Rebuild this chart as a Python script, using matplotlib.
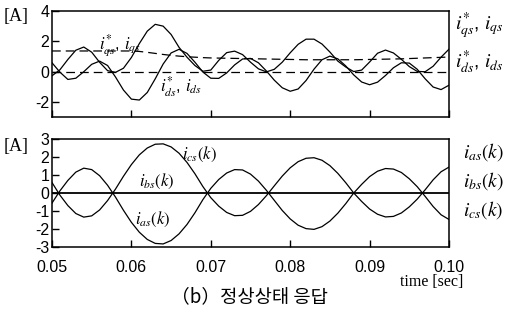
import matplotlib
matplotlib.use("Agg")
import matplotlib.pyplot as plt

# time axis (s)
t = [0.050, 0.051, 0.052, 0.053, 0.054, 0.055, 0.056, 0.057, 0.058, 0.059,
     0.060, 0.061, 0.062, 0.063, 0.064, 0.065, 0.066, 0.067, 0.068, 0.069,
     0.070, 0.071, 0.072, 0.073, 0.074, 0.075, 0.076, 0.077, 0.078, 0.079,
     0.080, 0.081, 0.082, 0.083, 0.084, 0.085, 0.086, 0.087, 0.088, 0.089,
     0.090, 0.091, 0.092, 0.093, 0.094, 0.095, 0.096, 0.097, 0.098, 0.099,
     0.100]

# top panel: q/d axis currents
iqs = [-0.28, 0.12, 0.80, 1.41, 1.62, 1.28, 0.61, 0.06, -0.05, 0.22,
       0.93, 1.85, 2.67, 3.12, 3.00, 2.45, 1.60, 0.95, 0.40, 0.02,
       0.10, 0.74, 1.25, 1.35, 1.12, 0.62, 0.18, -0.02, 0.15, 0.62,
       1.24, 1.80, 2.14, 2.14, 1.82, 1.29, 0.69, 0.30, 0.00, 0.10,
       0.63, 1.21, 1.42, 1.23, 0.81, 0.33, 0.01, -0.01, 0.35, 0.95,
       1.48]
ids = [0.58, -0.04, -0.52, -0.44, -0.01, 0.48, 0.69, 0.40, -0.36, -1.22,
       -1.82, -1.88, -1.38, -0.48, 0.50, 1.23, 1.47, 1.20, 0.62, -0.03,
       -0.44, -0.45, -0.09, 0.44, 0.83, 0.87, 0.58, 0.04, -0.57, -1.07,
       -1.30, -1.15, -0.59, 0.16, 0.78, 1.02, 0.84, 0.37, -0.22, -0.69,
       -0.87, -0.70, -0.26, 0.25, 0.58, 0.56, 0.15, -0.48, -1.02, -1.19,
       -0.90]
iqs_ref = [1.36, 1.36, 1.36, 1.36, 1.36, 1.36, 1.36, 1.36, 1.36, 1.36,
           1.36, 1.33, 1.27, 1.20, 1.13, 1.07, 1.02, 0.98, 0.95, 0.92,
           0.90, 0.89, 0.88, 0.87, 0.86, 0.85, 0.84, 0.83, 0.82, 0.81,
           0.80, 0.79, 0.78, 0.78, 0.78, 0.78, 0.78, 0.78, 0.78, 0.79,
           0.80, 0.81, 0.82, 0.83, 0.84, 0.86, 0.88, 0.90, 0.92, 0.94,
           0.96]
ids_ref = [0.0, 0.0, 0.0, 0.0, 0.0, 0.0, 0.0, 0.0, 0.0, 0.0,
           0.0, 0.0, 0.0, 0.0, 0.0, 0.0, 0.0, 0.0, 0.0, 0.0,
           0.0, 0.0, 0.0, 0.0, 0.0, 0.0, 0.0, 0.0, 0.0, 0.0,
           0.0, 0.0, 0.0, 0.0, 0.0, 0.0, 0.0, 0.0, 0.0, 0.0,
           0.0, 0.0, 0.0, 0.0, 0.0, 0.0, 0.0, 0.0, 0.0, 0.0,
           0.0]

# bottom panel: phase currents
ics = [0.58, -0.12, -0.70, -1.14, -1.34, -1.27, -0.94, -0.42, 0.22, 0.93,
       1.58, 2.12, 2.50, 2.71, 2.73, 2.56, 2.21, 1.70, 1.07, 0.36,
       -0.26, -0.73, -1.08, -1.26, -1.24, -1.02, -0.64, -0.15, 0.40, 0.94,
       1.40, 1.74, 1.93, 1.96, 1.82, 1.52, 1.09, 0.57, 0.00, -0.47,
       -0.89, -1.18, -1.33, -1.30, -1.11, -0.77, -0.34, 0.18, 0.73, 1.18,
       1.44]
ias = [-0.56, 0.12, 0.70, 1.16, 1.38, 1.30, 0.96, 0.43, -0.23, -0.96,
       -1.63, -2.18, -2.58, -2.80, -2.83, -2.64, -2.27, -1.75, -1.10, -0.37,
       0.26, 0.75, 1.11, 1.30, 1.28, 1.05, 0.66, 0.15, -0.41, -0.97,
       -1.44, -1.79, -1.98, -2.02, -1.87, -1.56, -1.12, -0.59, 0.00, 0.48,
       0.91, 1.21, 1.36, 1.33, 1.14, 0.79, 0.35, -0.19, -0.75, -1.21,
       -1.47]
ibs = [0.0, 0.0, 0.0, 0.0, 0.0, 0.0, 0.0, 0.0, 0.0, 0.0,
       0.0, 0.0, 0.0, 0.0, 0.0, 0.0, 0.0, 0.0, 0.0, 0.0,
       0.0, 0.0, 0.0, 0.0, 0.0, 0.0, 0.0, 0.0, 0.0, 0.0,
       0.0, 0.0, 0.0, 0.0, 0.0, 0.0, 0.0, 0.0, 0.0, 0.0,
       0.0, 0.0, 0.0, 0.0, 0.0, 0.0, 0.0, 0.0, 0.0, 0.0,
       0.0]

x_ticks = [0.05, 0.06, 0.07, 0.08, 0.09, 0.10]
x_ticklabels = ["0.05", "0.06", "0.07", "0.08", "0.09", "0.10"]
top_yticks = [-2, 0, 2, 4]
bot_yticks = [-3, -2, -1, 0, 1, 2, 3]

plt.rcParams["mathtext.fontset"] = "stix"
plt.rcParams["font.family"] = ["Liberation Sans", "DejaVu Sans"]

W, H = 515, 323
fig = plt.figure(figsize=(W / 100, H / 100), dpi=100)

def fx(px):
    return px / W

def fy(py):
    return 1 - py / H

ax1 = fig.add_axes([fx(52), fy(117), fx(449) - fx(52), fy(11) - fy(117)])
ax2 = fig.add_axes([fx(52), fy(247), fx(449) - fx(52), fy(139) - fy(247)])

lw = 0.9
dash = (0, (7, 4))
ax1.plot(t, iqs_ref, color="black", lw=lw, linestyle=dash)
ax1.plot(t, ids_ref, color="black", lw=lw, linestyle=dash)
ax1.plot(t, iqs, color="black", lw=lw)
ax1.plot(t, ids, color="black", lw=lw)
ax1.set_xlim(0.05, 0.10)
ax1.set_ylim(-3, 4)
ax1.set_yticks(top_yticks)
ax1.set_yticklabels([str(v) for v in top_yticks])
ax1.set_xticks(x_ticks)
ax1.set_xticklabels([])

ax2.plot(t, ias, color="black", lw=lw)
ax2.plot(t, ics, color="black", lw=lw)
ax2.plot(t, ibs, color="black", lw=1.3)
ax2.set_xlim(0.05, 0.10)
ax2.set_ylim(-3, 3)
ax2.set_yticks(bot_yticks)
ax2.set_yticklabels([str(v) for v in bot_yticks])
ax2.set_xticks(x_ticks)
ax2.set_xticklabels(x_ticklabels)

for ax in (ax1, ax2):
    for s in ax.spines.values():
        s.set_linewidth(1.1)
    ax.tick_params(direction="in", length=5, width=1, labelsize=11.5, pad=2)
    ax.tick_params(axis="x", pad=9)

serif = ["Liberation Serif", "DejaVu Serif"]
fig.text(fx(16), fy(17), "[A]", ha="center", va="center", fontsize=13, family=serif)
fig.text(fx(16), fy(146), "[A]", ha="center", va="center", fontsize=13, family=serif)

fig.text(fx(455), fy(26), r"$i_{qs}^{*}$, $i_{qs}$", ha="left", va="center", fontsize=14)
fig.text(fx(455), fy(62), r"$i_{ds}^{*}$, $i_{ds}$", ha="left", va="center", fontsize=14)
fig.text(fx(120), fy(45), r"$i_{qs}^{*}$, $i_{qs}$", ha="center", va="center", fontsize=12)
fig.text(fx(181), fy(87), r"$i_{ds}^{*}$, $i_{ds}$", ha="center", va="center", fontsize=12)

fig.text(fx(463), fy(152), r"$i_{as}(k)$", ha="left", va="center", fontsize=14)
fig.text(fx(463), fy(181), r"$i_{bs}(k)$", ha="left", va="center", fontsize=14)
fig.text(fx(463), fy(210), r"$i_{cs}(k)$", ha="left", va="center", fontsize=14)
fig.text(fx(199), fy(154), r"$i_{cs}(k)$", ha="center", va="center", fontsize=12)
fig.text(fx(157), fy(181), r"$i_{bs}(k)$", ha="center", va="center", fontsize=12)
fig.text(fx(153), fy(219), r"$i_{as}(k)$", ha="center", va="center", fontsize=12)

fig.text(fx(463), fy(282), "time [sec]", ha="right", va="center", fontsize=11.5, family=serif)
fig.text(fx(249), fy(297), "（b）정상상태 응답", ha="center", va="center", fontsize=13.5,
         family=["Noto Sans CJK KR", "DejaVu Sans"])

fig.savefig("out.png", dpi=100)
